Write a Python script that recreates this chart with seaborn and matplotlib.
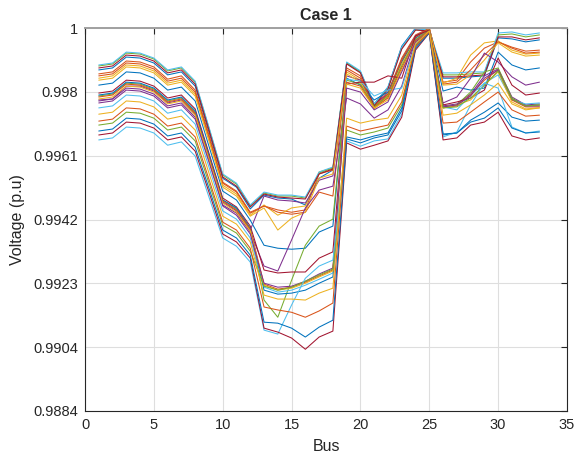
import numpy as np
import pandas as pd
import matplotlib
matplotlib.use("Agg")
import matplotlib.pyplot as plt
import seaborn as sns

# bus voltage profile (p.u.) for each hour, 33-bus feeder
bus = list(range(1, 34))

h01 = [0.99873, 0.99879, 0.99912, 0.99909, 0.99894, 0.99858, 0.99867, 0.99824, 0.99685, 0.99545, 0.99518, 0.99452, 0.99494, 0.99485, 0.99482, 0.99464, 0.99545, 0.99570, 0.99894, 0.99867, 0.99770, 0.99821, 0.99945, 1.00000, 0.99997, 0.99848, 0.99848, 0.99852, 0.99855, 0.99970, 0.99967, 0.99958, 0.99964]
h02 = [0.99861, 0.99867, 0.99900, 0.99897, 0.99882, 0.99845, 0.99855, 0.99812, 0.99676, 0.99533, 0.99506, 0.99442, 0.99461, 0.99449, 0.99442, 0.99449, 0.99558, 0.99570, 0.99879, 0.99855, 0.99761, 0.99806, 0.99909, 0.99979, 1.00000, 0.99836, 0.99842, 0.99897, 0.99939, 0.99958, 0.99942, 0.99930, 0.99933]
h03 = [0.99848, 0.99855, 0.99888, 0.99885, 0.99870, 0.99833, 0.99842, 0.99800, 0.99664, 0.99524, 0.99497, 0.99433, 0.99464, 0.99433, 0.99455, 0.99461, 0.99564, 0.99576, 0.99867, 0.99842, 0.99758, 0.99797, 0.99897, 0.99970, 0.99997, 0.99833, 0.99848, 0.99918, 0.99955, 0.99961, 0.99933, 0.99921, 0.99924]
h04 = [0.99782, 0.99785, 0.99824, 0.99824, 0.99809, 0.99773, 0.99782, 0.99739, 0.99606, 0.99473, 0.99446, 0.99388, 0.99491, 0.99479, 0.99476, 0.99470, 0.99539, 0.99552, 0.99855, 0.99842, 0.99770, 0.99800, 0.99903, 0.99976, 0.99997, 0.99764, 0.99770, 0.99800, 0.99855, 0.99876, 0.99791, 0.99767, 0.99770]
h05 = [0.99885, 0.99891, 0.99924, 0.99921, 0.99906, 0.99870, 0.99879, 0.99836, 0.99697, 0.99555, 0.99527, 0.99461, 0.99500, 0.99491, 0.99491, 0.99485, 0.99561, 0.99576, 0.99894, 0.99867, 0.99767, 0.99818, 0.99939, 0.99994, 0.99991, 0.99858, 0.99858, 0.99861, 0.99864, 0.99979, 0.99982, 0.99973, 0.99979]
h06 = [0.99888, 0.99894, 0.99927, 0.99924, 0.99909, 0.99873, 0.99882, 0.99839, 0.99700, 0.99558, 0.99530, 0.99464, 0.99503, 0.99494, 0.99494, 0.99488, 0.99564, 0.99579, 0.99897, 0.99870, 0.99770, 0.99821, 0.99942, 0.99997, 0.99994, 0.99864, 0.99864, 0.99867, 0.99867, 0.99985, 0.99988, 0.99979, 0.99985]
h07 = [0.99879, 0.99885, 0.99918, 0.99915, 0.99900, 0.99864, 0.99873, 0.99830, 0.99691, 0.99549, 0.99521, 0.99458, 0.99497, 0.99488, 0.99485, 0.99482, 0.99558, 0.99573, 0.99891, 0.99864, 0.99764, 0.99815, 0.99936, 0.99994, 0.99991, 0.99852, 0.99852, 0.99855, 0.99858, 0.99973, 0.99973, 0.99964, 0.99970]
h08 = [0.99827, 0.99833, 0.99867, 0.99864, 0.99848, 0.99812, 0.99821, 0.99779, 0.99642, 0.99506, 0.99479, 0.99418, 0.99342, 0.99333, 0.99330, 0.99333, 0.99382, 0.99400, 0.99848, 0.99827, 0.99782, 0.99806, 0.99897, 0.99970, 0.99994, 0.99809, 0.99821, 0.99812, 0.99818, 0.99927, 0.99888, 0.99873, 0.99879]
h09 = [0.99855, 0.99861, 0.99894, 0.99891, 0.99876, 0.99839, 0.99848, 0.99806, 0.99670, 0.99530, 0.99503, 0.99439, 0.99461, 0.99442, 0.99436, 0.99442, 0.99503, 0.99491, 0.99873, 0.99848, 0.99758, 0.99800, 0.99903, 0.99973, 1.00000, 0.99830, 0.99836, 0.99873, 0.99918, 0.99958, 0.99939, 0.99924, 0.99927]
h10 = [0.99842, 0.99848, 0.99882, 0.99879, 0.99864, 0.99827, 0.99836, 0.99794, 0.99658, 0.99518, 0.99491, 0.99430, 0.99455, 0.99388, 0.99424, 0.99442, 0.99545, 0.99558, 0.99861, 0.99836, 0.99755, 0.99791, 0.99891, 0.99964, 0.99997, 0.99827, 0.99830, 0.99858, 0.99903, 0.99955, 0.99927, 0.99915, 0.99918]
h11 = [0.99779, 0.99785, 0.99818, 0.99815, 0.99800, 0.99764, 0.99773, 0.99730, 0.99600, 0.99464, 0.99439, 0.99382, 0.99279, 0.99264, 0.99358, 0.99455, 0.99509, 0.99521, 0.99788, 0.99770, 0.99727, 0.99752, 0.99824, 0.99964, 0.99994, 0.99773, 0.99791, 0.99848, 0.99924, 0.99897, 0.99852, 0.99827, 0.99836]
h12 = [0.99794, 0.99800, 0.99833, 0.99830, 0.99815, 0.99779, 0.99788, 0.99745, 0.99612, 0.99479, 0.99452, 0.99391, 0.99176, 0.99124, 0.99236, 0.99342, 0.99400, 0.99421, 0.99842, 0.99830, 0.99761, 0.99794, 0.99885, 0.99964, 0.99994, 0.99761, 0.99767, 0.99806, 0.99867, 0.99879, 0.99788, 0.99764, 0.99767]
h13 = [0.99758, 0.99764, 0.99797, 0.99794, 0.99779, 0.99742, 0.99752, 0.99709, 0.99579, 0.99446, 0.99421, 0.99364, 0.99215, 0.99200, 0.99206, 0.99221, 0.99239, 0.99258, 0.99845, 0.99839, 0.99794, 0.99812, 0.99818, 0.99952, 0.99991, 0.99761, 0.99752, 0.99797, 0.99833, 0.99858, 0.99782, 0.99770, 0.99773]
h14 = [0.99803, 0.99809, 0.99842, 0.99839, 0.99824, 0.99788, 0.99797, 0.99755, 0.99621, 0.99485, 0.99458, 0.99400, 0.99267, 0.99258, 0.99261, 0.99261, 0.99303, 0.99322, 0.99830, 0.99836, 0.99836, 0.99855, 0.99848, 0.99976, 0.99994, 0.99767, 0.99776, 0.99788, 0.99812, 0.99909, 0.99827, 0.99797, 0.99803]
h15 = [0.99797, 0.99803, 0.99836, 0.99833, 0.99818, 0.99782, 0.99791, 0.99749, 0.99615, 0.99479, 0.99455, 0.99394, 0.99206, 0.99194, 0.99197, 0.99206, 0.99227, 0.99246, 0.99670, 0.99661, 0.99673, 0.99682, 0.99758, 0.99948, 0.99991, 0.99676, 0.99682, 0.99721, 0.99745, 0.99773, 0.99730, 0.99718, 0.99721]
h16 = [0.99791, 0.99797, 0.99830, 0.99827, 0.99812, 0.99776, 0.99785, 0.99742, 0.99609, 0.99476, 0.99449, 0.99391, 0.99224, 0.99209, 0.99215, 0.99230, 0.99249, 0.99267, 0.99836, 0.99824, 0.99758, 0.99788, 0.99879, 0.99961, 0.99991, 0.99758, 0.99764, 0.99797, 0.99842, 0.99873, 0.99782, 0.99761, 0.99761]
h17 = [0.99785, 0.99791, 0.99824, 0.99821, 0.99806, 0.99770, 0.99779, 0.99736, 0.99603, 0.99470, 0.99442, 0.99385, 0.99221, 0.99206, 0.99212, 0.99227, 0.99246, 0.99264, 0.99830, 0.99818, 0.99758, 0.99782, 0.99873, 0.99958, 0.99988, 0.99758, 0.99767, 0.99782, 0.99827, 0.99867, 0.99776, 0.99755, 0.99758]
h18 = [0.99773, 0.99779, 0.99812, 0.99809, 0.99794, 0.99758, 0.99767, 0.99724, 0.99594, 0.99461, 0.99433, 0.99376, 0.99227, 0.99215, 0.99218, 0.99233, 0.99255, 0.99273, 0.99818, 0.99806, 0.99752, 0.99776, 0.99867, 0.99958, 0.99988, 0.99761, 0.99767, 0.99794, 0.99848, 0.99873, 0.99785, 0.99764, 0.99764]
h19 = [0.99706, 0.99712, 0.99745, 0.99742, 0.99727, 0.99691, 0.99700, 0.99658, 0.99530, 0.99403, 0.99379, 0.99324, 0.99218, 0.99206, 0.99215, 0.99233, 0.99252, 0.99270, 0.99691, 0.99676, 0.99685, 0.99697, 0.99767, 0.99945, 0.99988, 0.99758, 0.99761, 0.99788, 0.99827, 0.99870, 0.99785, 0.99764, 0.99767]
h20 = [0.99661, 0.99667, 0.99700, 0.99697, 0.99682, 0.99645, 0.99655, 0.99612, 0.99488, 0.99364, 0.99339, 0.99291, 0.99085, 0.99073, 0.99161, 0.99242, 0.99279, 0.99297, 0.99658, 0.99642, 0.99658, 0.99664, 0.99739, 0.99939, 0.99985, 0.99670, 0.99685, 0.99767, 0.99833, 0.99818, 0.99700, 0.99682, 0.99688]
h21 = [0.99676, 0.99682, 0.99715, 0.99712, 0.99697, 0.99661, 0.99670, 0.99627, 0.99503, 0.99376, 0.99352, 0.99303, 0.99091, 0.99079, 0.99061, 0.99027, 0.99064, 0.99082, 0.99652, 0.99633, 0.99645, 0.99658, 0.99730, 0.99933, 0.99985, 0.99661, 0.99667, 0.99706, 0.99715, 0.99745, 0.99673, 0.99661, 0.99667]
h22 = [0.99688, 0.99694, 0.99727, 0.99724, 0.99709, 0.99673, 0.99682, 0.99639, 0.99515, 0.99388, 0.99364, 0.99312, 0.99109, 0.99106, 0.99091, 0.99064, 0.99094, 0.99115, 0.99664, 0.99652, 0.99667, 0.99676, 0.99749, 0.99939, 0.99985, 0.99679, 0.99682, 0.99715, 0.99727, 0.99758, 0.99697, 0.99682, 0.99685]
h23 = [0.99718, 0.99724, 0.99758, 0.99755, 0.99739, 0.99703, 0.99712, 0.99670, 0.99542, 0.99412, 0.99388, 0.99333, 0.99155, 0.99146, 0.99139, 0.99124, 0.99143, 0.99167, 0.99703, 0.99688, 0.99697, 0.99706, 0.99776, 0.99945, 0.99988, 0.99712, 0.99715, 0.99745, 0.99776, 0.99806, 0.99752, 0.99733, 0.99736]
h24 = [0.99739, 0.99745, 0.99779, 0.99776, 0.99761, 0.99724, 0.99733, 0.99691, 0.99561, 0.99430, 0.99406, 0.99352, 0.99191, 0.99179, 0.99179, 0.99176, 0.99197, 0.99212, 0.99727, 0.99712, 0.99721, 0.99727, 0.99797, 0.99952, 0.99991, 0.99736, 0.99742, 0.99767, 0.99797, 0.99833, 0.99770, 0.99752, 0.99758]

profiles = [h01, h02, h03, h04, h05, h06, h07, h08, h09, h10, h11, h12,
            h13, h14, h15, h16, h17, h18, h19, h20, h21, h22, h23, h24]
hour_names = ['h%02d' % (i + 1) for i in range(len(profiles))]

ytick_labels = ['0.9884', '0.9904', '0.9923', '0.9942', '0.9961', '0.998', '1']

# MATLAB default colour order, cycled over the 24 hours
matlab_colors = ['#0072BD', '#D95319', '#EDB120', '#7E2F8E', '#77AC30', '#4DBEEE', '#A2142F']
palette = [matlab_colors[i % 7] for i in range(len(profiles))]

df = pd.DataFrame({
    'Bus': bus * len(profiles),
    'Voltage': np.concatenate(profiles),
    'Hour': np.repeat(hour_names, len(bus)),
})

sns.set_style('white')
plt.rcParams['font.family'] = ['Liberation Sans', 'DejaVu Sans']

fig = plt.figure(figsize=(5.76, 4.59), dpi=100)
ax = fig.add_axes([85 / 576, 48 / 459, 482 / 576, 383 / 459])

sns.lineplot(data=df, x='Bus', y='Voltage', hue='Hour', palette=palette,
             estimator=None, legend=False, linewidth=0.75, ax=ax)

ax.set_xlim(0, 35)
ax.set_ylim(0.9884, 1.0)
ax.set_xticks(range(0, 36, 5))
ax.set_yticks(np.linspace(0.9884, 1.0, 7))
ax.set_yticklabels(ytick_labels)
ax.grid(True, color='#dedede', linewidth=0.8)
ax.set_axisbelow(True)

ax.tick_params(direction='in', length=4, width=0.8, top=True, right=True,
               labelsize=10.5, color='#262626', labelcolor='#262626', pad=5)
for side in ['left', 'right', 'bottom']:
    ax.spines[side].set_color('#262626')
    ax.spines[side].set_linewidth(0.8)
ax.spines['top'].set_color('#a0a0a0')
ax.spines['top'].set_linewidth(1.4)

ax.set_xlabel('Bus', fontsize=11.5, color='#262626', labelpad=5)
ax.set_ylabel('Voltage (p.u)', fontsize=11.5, color='#262626', labelpad=6)
ax.set_title('Case 1', fontsize=11.5, fontweight='bold', pad=6)

fig.savefig('out.png', dpi=100)
